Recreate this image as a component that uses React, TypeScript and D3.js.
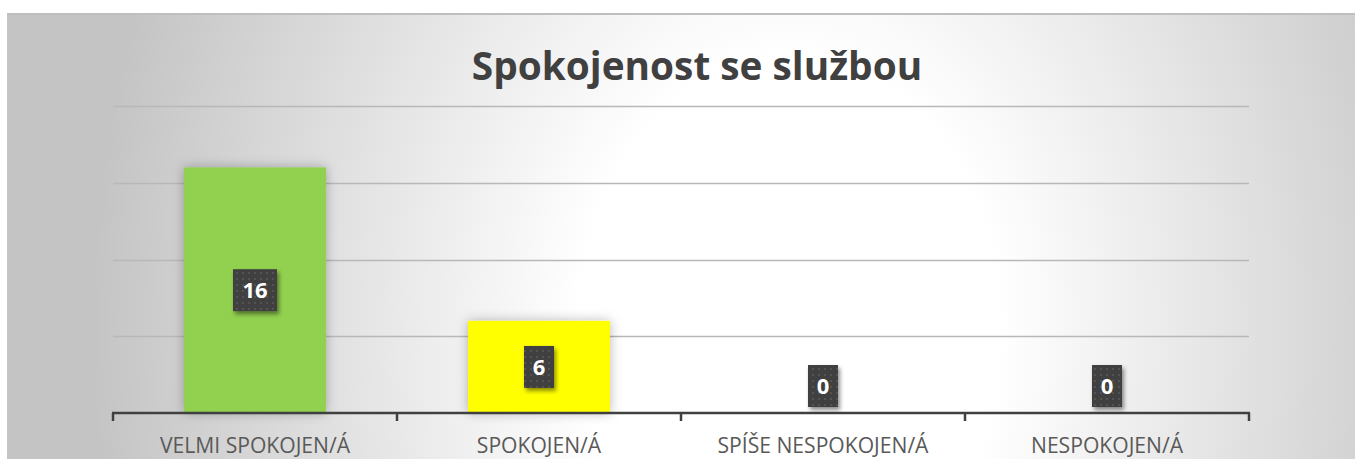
import React from "react";
import * as d3 from "d3";

const title = "Spokojenost se službou";
const categories = ["VELMI SPOKOJEN/Á", "SPOKOJEN/Á", "SPÍŠE NESPOKOJEN/Á", "NESPOKOJEN/Á"];
const values = [16, 6, 0, 0];
const barColors = ["#92d050", "#ffff00", "#92d050", "#92d050"];
const gridTicks = [5, 10, 15, 20];

const W = 1355;
const H = 459;
const chart = { x: 7, y: 13, w: 1348, h: 446 };
const plot = { left: 113, right: 1249, top: 106, bottom: 413 };

export default function App() {
  const x = d3
    .scaleBand<string>()
    .domain(categories)
    .range([plot.left, plot.right])
    .paddingInner(0.5)
    .paddingOuter(0.25);
  const y = d3.scaleLinear().domain([0, 20]).range([plot.bottom, plot.top]);
  const step = x.step();
  const boundaries = d3.range(categories.length + 1).map((i) => plot.left + i * step);

  return (
    <svg
      width={W}
      height={H}
      style={{ position: "absolute", left: 0, top: 0 }}
      fontFamily="'Open Sans', 'Liberation Sans', sans-serif"
    >
      <defs>
        <radialGradient
          id="bg"
          gradientUnits="userSpaceOnUse"
          cx={790}
          cy={330}
          r={700}
          gradientTransform="translate(790,330) scale(1,1.3) translate(-790,-330)"
        >
          <stop offset="0" stopColor="#ffffff" />
          <stop offset="0.3" stopColor="#ffffff" />
          <stop offset="1" stopColor="#c4c4c4" />
        </radialGradient>
        <pattern id="dots" width="6" height="6" patternUnits="userSpaceOnUse">
          <rect width="6" height="6" fill="#404040" />
          <circle cx="3" cy="3" r="0.9" fill="#5a5a5a" />
        </pattern>
        <filter id="barShadow" x="-30%" y="-30%" width="160%" height="160%">
          <feDropShadow dx="0" dy="0" stdDeviation="6" floodColor="#000" floodOpacity="0.28" />
        </filter>
        <filter id="lblShadow" x="-40%" y="-40%" width="180%" height="180%">
          <feDropShadow dx="2" dy="3" stdDeviation="2" floodColor="#000" floodOpacity="0.45" />
        </filter>
      </defs>

      <rect x={chart.x} y={chart.y} width={chart.w} height={chart.h} fill="url(#bg)" />
      <line x1={chart.x} x2={chart.x + chart.w} y1={chart.y + 1} y2={chart.y + 1} stroke="#bfbfbf" strokeWidth={2} />

      <g transform={`translate(697,80) scale(0.97,1)`}>
        <text textAnchor="middle" fontSize={40} fontWeight="bold" fill="#404040">
          {title}
        </text>
      </g>

      {gridTicks.map((t) => (
        <line
          key={t}
          x1={plot.left}
          x2={plot.right}
          y1={Math.round(y(t)) + 0.5}
          y2={Math.round(y(t)) + 0.5}
          stroke="#b8b8b8"
          strokeWidth={1.3}
        />
      ))}

      {categories.map((c, i) =>
        values[i] > 0 ? (
          <rect
            key={c}
            x={x(c)}
            y={y(values[i])}
            width={x.bandwidth()}
            height={plot.bottom - y(values[i])}
            fill={barColors[i]}
            filter="url(#barShadow)"
          />
        ) : null
      )}

      <line x1={plot.left - 1} x2={plot.right + 1} y1={plot.bottom} y2={plot.bottom} stroke="#404040" strokeWidth={2.5} />
      {boundaries.map((bx, i) => (
        <line key={i} x1={bx} x2={bx} y1={plot.bottom} y2={plot.bottom + 8} stroke="#404040" strokeWidth={2.5} />
      ))}

      {categories.map((c, i) => {
        const cx = (x(c) as number) + x.bandwidth() / 2;
        const label = String(values[i]);
        const bw = 16 + 14 * label.length;
        const bh = 42;
        const cy = values[i] > 0 ? (y(values[i]) + plot.bottom) / 2 : plot.bottom - 6 - bh / 2;
        return (
          <g key={c}>
            <rect x={cx - bw / 2} y={cy - bh / 2} width={bw} height={bh} fill="url(#dots)" filter="url(#lblShadow)" />
            <text x={cx} y={cy + 8} textAnchor="middle" fontSize={22} fontWeight="bold" fill="#ffffff">
              {label}
            </text>
          </g>
        );
      })}

      {categories.map((c) => {
        const cx = (x(c) as number) + x.bandwidth() / 2;
        return (
          <g key={c} transform={`translate(${cx},453) scale(0.96,1)`}>
            <text textAnchor="middle" fontSize={22} fill="#595959">
              {c}
            </text>
          </g>
        );
      })}
    </svg>
  );
}
